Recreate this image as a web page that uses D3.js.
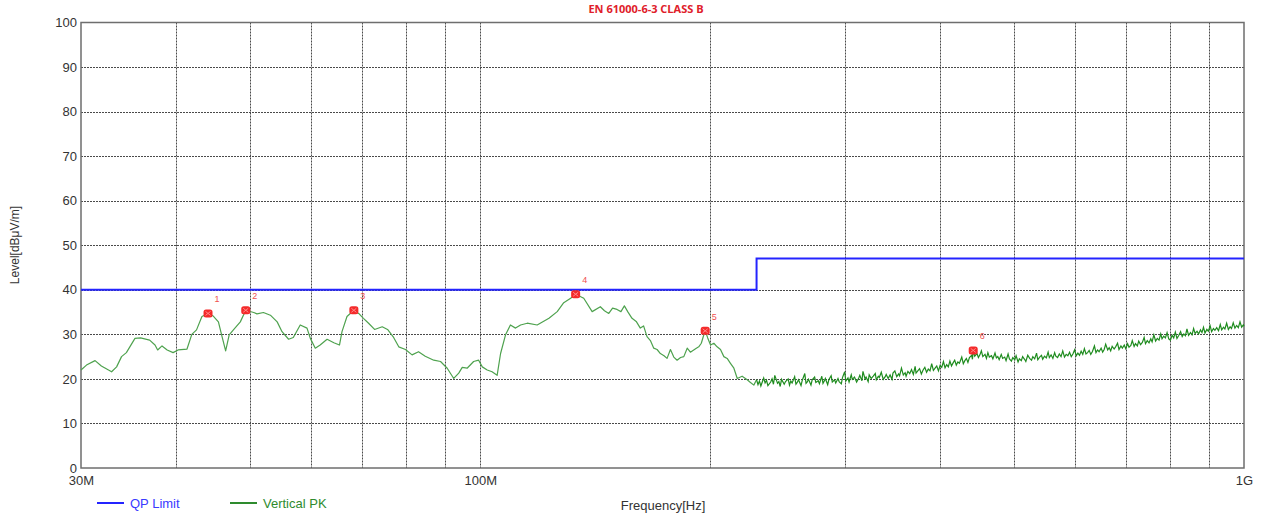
<!DOCTYPE html>
<html>
<head>
<meta charset="utf-8">
<script src="https://cdn.jsdelivr.net/npm/d3@7"></script>
<style>
  body { margin: 0; background: #fff; }
  svg { display: block; }
</style>
</head>
<body>
<svg id="chart"></svg>
<script>
const width = 1261
const height = 518

// chart values (MHz, dBuV/m)
const chartTitle = 'EN 61000-6-3 CLASS B'
const yTicks = [0, 10, 20, 30, 40, 50, 60, 70, 80, 90, 100]
const xGridFreqs = [40, 50, 60, 70, 80, 90, 100, 200, 300, 400, 500, 600, 700, 800, 900]
const xTickFreqs = [30, 100, 1000]
const xTickLabels = ['30M', '100M', '1G']

// QP limit steps: [freq, level]
const qpLimit = [[30, 40], [230, 40], [230, 47], [1000, 47]]

// vertical peak sweep, 30M - 230M
const pkSweepLow = [
  [30.0, 22.0], [30.5, 23.1], [31.3, 24.1], [31.9, 22.9], [32.9, 21.6], [33.4, 22.7], [33.9, 25.0], [34.4, 25.9],
  [35.3, 29.1], [35.9, 29.2], [36.9, 28.7], [37.5, 27.6], [37.8, 26.5], [38.3, 27.4], [38.9, 26.5], [39.6, 25.9],
  [40.2, 26.5], [41.3, 26.7], [41.9, 30.0], [42.5, 31.0], [43.2, 34.0], [44.0, 34.7], [44.7, 34.1], [45.4, 32.8],
  [45.9, 29.5], [46.4, 26.3], [46.9, 29.9], [47.5, 31.0], [48.5, 32.8], [49.3, 35.4], [50.5, 34.9], [51.0, 34.6],
  [52.0, 34.9], [53.1, 34.3], [54.2, 32.8], [55.0, 30.6], [56.1, 28.9], [56.9, 29.3], [58.1, 32.1], [59.3, 31.4],
  [59.9, 29.1], [60.8, 26.9], [61.7, 27.6], [63.0, 28.9], [64.3, 28.1], [65.4, 27.6], [65.9, 30.6], [66.9, 34.0],
  [68.3, 35.4], [69.3, 34.7], [70.3, 33.6], [71.4, 32.5], [72.7, 31.1], [74.4, 31.7], [75.6, 31.1], [77.0, 29.3],
  [78.2, 27.2], [79.8, 26.6], [81.4, 25.4], [83.0, 26.1], [84.7, 25.1], [86.9, 24.2], [88.7, 23.9], [90.5, 22.4],
  [92.3, 20.1], [93.7, 21.3], [94.7, 22.6], [96.1, 22.4], [98.0, 23.9], [99.5, 24.2], [100.6, 22.7], [102.1, 22.0],
  [103.6, 21.6], [105.2, 20.8], [106.3, 25.7], [107.9, 29.9], [109.5, 32.1], [111.2, 31.4], [112.9, 32.1], [115.2, 32.5],
  [118.7, 32.1], [123.0, 33.6], [126.1, 35.1], [128.6, 37.1], [131.3, 38.1], [133.3, 39.0], [136.6, 38.1], [140.1, 35.1],
  [143.6, 36.2], [145.4, 35.3], [147.3, 34.7], [149.0, 35.9], [151.0, 35.6], [152.8, 35.1], [154.4, 36.4], [156.1, 35.0],
  [158.0, 33.6], [160.0, 32.9], [162.0, 31.4], [163.6, 31.9], [165.3, 29.5], [167.0, 28.6], [168.7, 26.9], [170.4, 26.6],
  [172.1, 25.7], [174.0, 25.2], [175.6, 24.6], [177.4, 26.6], [179.2, 24.9], [181.0, 24.2], [182.9, 24.8], [184.7, 25.0],
  [186.6, 26.9], [188.4, 26.0], [190.3, 26.5], [191.8, 26.9], [193.2, 27.2], [194.7, 28.0], [196.2, 29.9], [197.0, 30.8],
  [198.5, 29.2], [200.2, 27.6], [202.2, 28.0], [204.2, 27.2], [206.3, 26.6], [208.4, 25.0], [210.5, 24.6], [212.6, 23.5],
  [214.8, 22.4], [217.0, 20.1], [220.2, 20.6], [223.6, 19.8], [225.8, 19.2], [228.1, 18.6]
]

// vertical peak sweep, 230M - 1G (noisy floor)
const pkSweepHigh = [
  [230, 19.8], [231, 18.7], [232, 19.5], [233, 18.4], [235, 20.2], [236, 19.1], [237, 19.7], [238, 18.5],
  [240, 19.3], [241, 20.0], [242, 18.8], [243, 20.8], [245, 19.0], [246, 19.4], [247, 18.3], [248, 19.9],
  [250, 18.8], [251, 19.4], [253, 20.0], [254, 18.6], [255, 19.5], [256, 19.1], [258, 20.5], [259, 18.8],
  [260, 19.2], [261, 19.8], [263, 18.5], [264, 19.7], [266, 21.2], [267, 19.0], [268, 19.3], [269, 19.9],
  [271, 18.6], [272, 19.8], [274, 20.4], [275, 19.2], [277, 19.6], [278, 18.9], [280, 20.6], [281, 19.0],
  [282, 19.5], [283, 20.1], [285, 18.7], [286, 19.8], [288, 20.7], [289, 19.3], [291, 19.8], [292, 19.1],
  [294, 20.1], [295, 19.4], [297, 18.9], [298, 20.3], [300, 21.6], [301, 19.5], [303, 20.2], [304, 19.3],
  [306, 20.9], [307, 19.9], [309, 20.4], [311, 19.3], [313, 20.2], [314, 20.8], [316, 19.6], [317, 21.7],
  [319, 20.0], [320, 20.4], [322, 19.4], [323, 20.9], [325, 20.1], [327, 20.6], [329, 21.2], [330, 19.8],
  [332, 20.6], [333, 20.3], [335, 21.5], [337, 19.9], [339, 20.5], [340, 21.0], [342, 20.1], [344, 20.9],
  [346, 19.9], [347, 21.3], [349, 21.8], [351, 20.5], [353, 21.1], [354, 20.7], [356, 22.4], [358, 20.9],
  [360, 21.4], [361, 20.6], [363, 21.7], [365, 21.2], [367, 22.1], [369, 21.0], [371, 22.8], [372, 21.3],
  [374, 21.8], [376, 22.3], [378, 21.1], [380, 22.0], [382, 22.6], [384, 21.5], [386, 22.2], [388, 21.8],
  [390, 23.4], [392, 21.9], [394, 22.4], [396, 22.9], [398, 21.8], [400, 23.0], [402, 22.6], [404, 23.9],
  [406, 22.5], [408, 23.2], [410, 22.7], [412, 24.0], [414, 22.9], [416, 23.6], [418, 24.2], [420, 23.1],
  [422, 23.8], [424, 23.5], [427, 24.9], [429, 23.4], [431, 24.1], [433, 24.6], [435, 23.7], [437, 24.8],
  [440, 25.3], [441, 24.4], [442, 26.4], [444, 25.1], [447, 25.7], [449, 24.8], [451, 25.4], [453, 26.3],
  [455, 25.0], [458, 25.5], [460, 24.6], [462, 25.9], [464, 24.9], [467, 25.2], [469, 24.5], [472, 25.8],
  [474, 24.7], [476, 25.0], [478, 24.3], [481, 25.5], [483, 24.6], [486, 24.9], [488, 24.1], [491, 25.6],
  [493, 24.5], [496, 24.0], [498, 24.8], [501, 24.3], [503, 25.2], [506, 23.8], [508, 24.5], [511, 24.1],
  [513, 25.0], [516, 24.4], [518, 23.9], [521, 25.3], [524, 24.6], [527, 24.2], [529, 25.0], [532, 24.5],
  [535, 25.8], [537, 24.3], [540, 24.9], [543, 25.3], [545, 24.4], [548, 25.1], [551, 24.7], [554, 26.0],
  [556, 24.8], [559, 25.4], [562, 24.6], [565, 25.9], [567, 25.1], [570, 24.8], [573, 25.6], [576, 25.0],
  [579, 26.3], [582, 24.9], [585, 25.5], [588, 25.2], [591, 26.0], [594, 25.0], [597, 25.6], [600, 26.5],
  [603, 25.2], [606, 25.8], [609, 25.3], [612, 26.2], [615, 25.5], [618, 26.8], [621, 25.6], [624, 25.9],
  [627, 26.4], [630, 25.5], [633, 26.1], [637, 27.4], [640, 25.9], [643, 26.5], [646, 26.1], [650, 26.9],
  [653, 26.0], [656, 26.6], [659, 27.8], [663, 26.5], [666, 27.0], [669, 26.3], [672, 27.3], [676, 26.7],
  [679, 27.2], [683, 28.0], [686, 26.6], [690, 27.4], [693, 26.9], [697, 27.6], [700, 26.8], [704, 27.9],
  [707, 27.1], [711, 27.5], [714, 28.6], [718, 27.3], [721, 27.9], [725, 27.4], [728, 28.5], [732, 27.7],
  [736, 28.2], [740, 29.3], [743, 27.9], [747, 28.6], [751, 28.1], [755, 29.0], [758, 28.3], [762, 29.9],
  [766, 28.5], [770, 29.1], [774, 28.7], [778, 30.1], [781, 29.0], [785, 29.6], [789, 29.2], [793, 30.4],
  [797, 29.0], [801, 28.7], [805, 29.8], [809, 29.2], [813, 30.5], [817, 29.1], [821, 29.7], [826, 30.6],
  [830, 29.5], [834, 30.1], [838, 29.7], [842, 31.2], [846, 29.8], [851, 30.4], [855, 29.9], [859, 31.3],
  [863, 30.2], [868, 30.7], [872, 30.1], [877, 31.0], [881, 30.4], [885, 31.6], [889, 30.3], [894, 31.1],
  [898, 30.7], [903, 31.9], [907, 30.6], [912, 31.3], [916, 30.9], [921, 31.5], [926, 30.8], [931, 32.2],
  [935, 31.0], [940, 31.6], [944, 31.2], [949, 32.5], [954, 31.1], [959, 31.7], [963, 31.3], [968, 32.6],
  [973, 31.4], [978, 32.0], [983, 31.5], [988, 32.8], [993, 31.6], [998, 32.1], [1000, 31.8]
]

// peak markers
const markerFreqs = [44.0, 49.3, 68.3, 133.3, 197.0, 442.0]
const markerLevels = [34.7, 35.4, 35.4, 39.0, 30.8, 26.4]
const markerLabels = ['1', '2', '3', '4', '5', '6']

const legendItems = [
  { name: 'QP Limit', color: '#2424ff', text: '#3a3aff' },
  { name: 'Vertical PK', color: '#2e8b2e', text: '#2e8b2e' },
]

const margin = { top: 22.5, right: 17, bottom: 50, left: 81 }

const svg = d3.select('#chart').attr('width', width).attr('height', height)
  .attr('font-family', 'Liberation Sans, Arial, sans-serif')

const x = d3.scaleLog().domain([30, 1000]).range([margin.left, width - margin.right])
const y = d3.scaleLinear().domain([0, 100]).range([height - margin.bottom, margin.top])

// grid
const grid = svg.append('g').attr('stroke', '#4a4a4a').attr('stroke-dasharray', '2,1').attr('stroke-width', 1)
grid.selectAll('line.v')
  .data(xGridFreqs)
  .join('line')
  .attr('class', 'v')
  .attr('x1', (d) => Math.round(x(d)) + 0.5)
  .attr('x2', (d) => Math.round(x(d)) + 0.5)
  .attr('y1', y(100))
  .attr('y2', y(0))
grid.selectAll('line.h')
  .data(yTicks.filter((d) => d > 0 && d < 100))
  .join('line')
  .attr('class', 'h')
  .attr('x1', x(30))
  .attr('x2', x(1000))
  .attr('y1', (d) => Math.round(y(d)) + 0.5)
  .attr('y2', (d) => Math.round(y(d)) + 0.5)

// frame
svg.append('rect')
  .attr('x', x(30))
  .attr('y', y(100))
  .attr('width', x(1000) - x(30))
  .attr('height', y(0) - y(100))
  .attr('fill', 'none')
  .attr('stroke', '#6e6e6e')
  .attr('stroke-width', 1.5)

// axes
svg.append('g')
  .attr('transform', `translate(${x(30)},0)`)
  .call(d3.axisLeft(y).tickValues(yTicks).tickSize(0).tickPadding(4))
  .call((g) => g.select('.domain').remove())
  .call((g) => g.selectAll('text').attr('fill', '#333').attr('font-size', 13).attr('font-family', 'Liberation Sans, Arial, sans-serif'))

svg.append('g')
  .attr('transform', `translate(0,${y(0)})`)
  .call(d3.axisBottom(x).tickValues(xTickFreqs).tickFormat((d, i) => xTickLabels[i]).tickSize(0).tickPadding(8))
  .call((g) => g.select('.domain').remove())
  .call((g) => g.selectAll('text').attr('fill', '#333').attr('font-size', 13).attr('font-family', 'Liberation Sans, Arial, sans-serif'))

// axis titles
svg.append('text')
  .attr('x', 663)
  .attr('y', 510)
  .attr('text-anchor', 'middle')
  .attr('font-size', 13)
  .attr('fill', '#333')
  .text('Frequency[Hz]')

svg.append('text')
  .attr('transform', 'translate(19,245) rotate(-90)')
  .attr('text-anchor', 'middle')
  .attr('font-size', 12)
  .attr('fill', '#333')
  .text('Level[dBμV/m]')

// title
svg.append('text')
  .attr('x', 646)
  .attr('y', 13)
  .attr('text-anchor', 'middle')
  .attr('font-family', 'Open Sans, sans-serif')
  .attr('font-weight', 'bold')
  .attr('font-size', 11)
  .attr('fill', '#e0202a')
  .text(chartTitle)

// traces
const line = d3.line().x((d) => x(d[0])).y((d) => y(d[1]))

svg.append('path')
  .datum(pkSweepLow.concat([pkSweepHigh[0]]))
  .attr('fill', 'none')
  .attr('stroke', '#4ea24e')
  .attr('stroke-width', 1.2)
  .attr('stroke-linejoin', 'round')
  .attr('d', line)

svg.append('path')
  .datum(pkSweepHigh)
  .attr('fill', 'none')
  .attr('stroke', '#1f8c1f')
  .attr('stroke-width', 1.2)
  .attr('d', line)

svg.append('path')
  .datum(qpLimit)
  .attr('fill', 'none')
  .attr('stroke', '#2424ff')
  .attr('stroke-width', 2)
  .attr('d', line)

// markers
const markers = svg.append('g')
  .selectAll('g')
  .data(markerFreqs.map((f, i) => ({ f, v: markerLevels[i], label: markerLabels[i] })))
  .join('g')
  .attr('transform', (d) => `translate(${x(d.f)},${y(d.v)})`)

markers.append('rect')
  .attr('x', -4.5).attr('y', -4).attr('width', 9).attr('height', 8)
  .attr('rx', 2.5)
  .attr('fill', '#f42a2a')
markers.append('path')
  .attr('d', 'M-2.5,-2L2.5,2M-2.5,2L2.5,-2')
  .attr('stroke', '#ff8a8a')
  .attr('stroke-width', 1)
markers.append('text')
  .attr('x', 9)
  .attr('y', -11)
  .attr('text-anchor', 'middle')
  .attr('font-size', 9)
  .attr('fill', '#f05050')
  .text((d) => d.label)

// legend
const legend = svg.append('g')
  .selectAll('g')
  .data(legendItems)
  .join('g')
  .attr('transform', (d, i) => `translate(${97 + i * 133},503)`)
legend.append('line')
  .attr('x1', 0).attr('x2', 27)
  .attr('stroke', (d) => d.color)
  .attr('stroke-width', 2)
legend.append('text')
  .attr('x', 33)
  .attr('dy', '0.35em')
  .attr('font-size', 13)
  .attr('fill', (d) => d.text)
  .text((d) => d.name)
</script>
</body>
</html>
